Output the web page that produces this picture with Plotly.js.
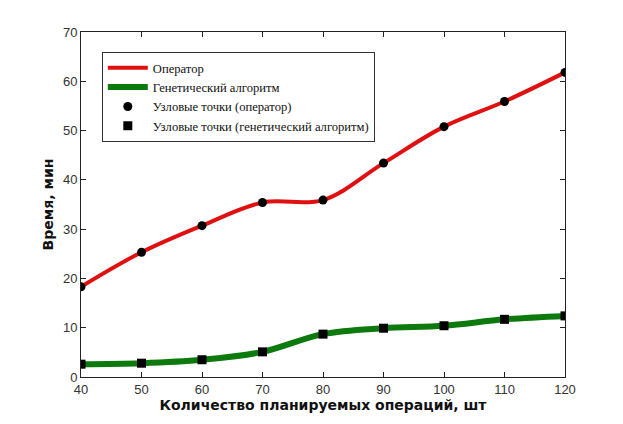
<!DOCTYPE html>
<html>
<head>
<meta charset="utf-8">
<script src="https://cdn.plot.ly/plotly-3.0.1.min.js"></script>
<style>
  html, body { margin: 0; padding: 0; background: #fff; }
  #chart { width: 623px; height: 424px; }
</style>
</head>
<body>
<div id="chart"></div>
<script>
// количество операций
const operations = [40, 50, 60, 70, 80, 90, 100, 110, 120];
// время, мин
const operatorTime = [18.3, 25.3, 30.7, 35.4, 35.9, 43.4, 50.8, 55.9, 61.8];
const gaTime = [2.6, 2.8, 3.5, 5.1, 8.7, 9.9, 10.4, 11.7, 12.4];

const xTicks = [40, 50, 60, 70, 80, 90, 100, 110, 120];
const yTicks = [0, 10, 20, 30, 40, 50, 60, 70];

const traces = [
    {
        x: operations, y: operatorTime,
        mode: 'lines', type: 'scatter',
        name: 'Оператор',
        line: { color: '#e01010', width: 4, shape: 'spline' }
    },
    {
        x: operations, y: gaTime,
        mode: 'lines', type: 'scatter',
        name: 'Генетический алгоритм',
        line: { color: '#0c7a0c', width: 6, shape: 'spline' }
    },
    {
        x: operations, y: operatorTime,
        mode: 'markers', type: 'scatter',
        name: 'Узловые точки (оператор)',
        marker: { symbol: 'circle', size: 9, color: '#000' }
    },
    {
        x: operations, y: gaTime,
        mode: 'markers', type: 'scatter',
        name: 'Узловые точки (генетический алгоритм)',
        marker: { symbol: 'square', size: 9, color: '#000' }
    }
];

const axisCommon = {
    showgrid: false,
    zeroline: false,
    showline: true,
    linecolor: '#222',
    linewidth: 1,
    mirror: 'ticks',
    ticks: 'inside',
    ticklen: 5,
    tickcolor: '#222',
    tickfont: { family: 'Liberation Sans Narrow, Arial Narrow, Liberation Sans', size: 13, color: '#333' }
};

const titleFont = { family: 'DejaVu Sans, Verdana, sans-serif', size: 14, weight: 'bold', color: '#111' };

const layout = {
    width: 623,
    height: 424,
    margin: { l: 81, r: 58, t: 32, b: 47 },
    paper_bgcolor: '#fff',
    plot_bgcolor: '#fff',
    showlegend: true,
    legend: {
        x: 0.043, y: 0.942,
        xanchor: 'left', yanchor: 'top',
        bgcolor: '#fff',
        bordercolor: '#333',
        borderwidth: 1,
        tracegroupgap: 0,
        itemwidth: 40,
        font: { family: 'Liberation Serif, Times New Roman, serif', size: 12.6, color: '#111' }
    },
    xaxis: Object.assign({}, axisCommon, {
        range: [40, 120],
        tickvals: xTicks,
        ticktext: xTicks.map(String),
        title: { text: 'Количество планируемых операций, шт', standoff: 3, font: titleFont }
    }),
    yaxis: Object.assign({}, axisCommon, {
        range: [0, 70],
        tickvals: yTicks,
        ticktext: yTicks.map(String),
        title: { text: 'Время, мин', standoff: 6, font: titleFont }
    })
};

Plotly.newPlot('chart', traces, layout, { displayModeBar: false, staticPlot: true });
</script>
</body>
</html>
